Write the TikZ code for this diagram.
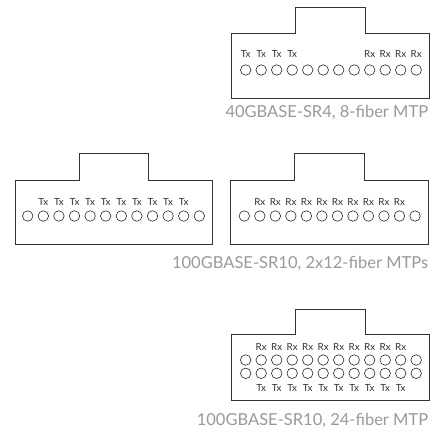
\documentclass[tikz,border=0pt]{standalone}
\usepackage{fontspec}
\setmainfont{Lato}
\begin{document}
\begin{tikzpicture}[x=1pt,y=-1pt,
  shell/.style={draw=black!80,line width=0.9pt},
  fiber/.style={circle,draw=black!85,line width=0.6pt,inner sep=0pt,minimum size=10.5pt},
  lane/.style={font=\fontsize{9.8}{9.8}\selectfont,text=black!80,inner sep=0pt},
  caption/.style={font=\fontsize{16.5}{16.5}\selectfont,text=black!40,anchor=east,inner sep=0pt}]
\useasboundingbox (0,0) rectangle (435,432);
% 40GBASE-SR4
\draw[shell] (231.7,33) -- (295.7,33) -- (295.7,7.3) -- (365.7,7.3) -- (365.7,33) -- (429.3,33) -- (429.3,98) -- (231.7,98) -- cycle;
\foreach \i in {1,...,12} \node[fiber] (a\i) at ({245.7+15.5*(\i-1)},70) {};
\foreach \i in {1,...,4} \node[lane] (ta\i) at ({245.7+15.5*(\i-1)},54) {Tx};
\foreach \i in {9,...,12} \node[lane] (ra\i) at ({245.7+15.5*(\i-1)},54) {Rx};
\node[caption] (capa) at (428.3,113) {40GBASE-SR4, 8-fiber MTP};
% 100GBASE-SR10, two MTPs
\draw[shell] (15,180) -- (79,180) -- (79,153.7) -- (148.3,153.7) -- (148.3,180) -- (212.3,180) -- (212.3,244.3) -- (15,244.3) -- cycle;
\draw[shell] (230.7,180) -- (294.3,180) -- (294.3,153.7) -- (364,153.7) -- (364,180) -- (428.3,180) -- (428.3,244.3) -- (230.7,244.3) -- cycle;
\foreach \i in {1,...,12} {
  \node[fiber] (b\i) at ({27.7+15.6*(\i-1)},216) {};
  \node[fiber] (c\i) at ({244.3+15.52*(\i-1)},216) {};
}
\foreach \i in {2,...,11} {
  \node[lane] (tb\i) at ({27.7+15.6*(\i-1)},201.7) {Tx};
  \node[lane] (rc\i) at ({244.3+15.52*(\i-1)},201.7) {Rx};
}
\node[caption] (capb) at (428.3,263.3) {100GBASE-SR10, 2x12-fiber MTPs};
% 100GBASE-SR10, one MTP
\draw[shell] (231.7,334.3) -- (295.7,334.3) -- (295.7,309) -- (365,309) -- (365,334.3) -- (429,334.3) -- (429,400) -- (231.7,400) -- cycle;
\foreach \i in {1,...,12} {
  \node[fiber] (d\i) at ({245.7+15.5*(\i-1)},360) {};
  \node[fiber] (e\i) at ({245.7+15.5*(\i-1)},373.3) {};
}
\foreach \i in {2,...,11} {
  \node[lane] (rd\i) at ({245.7+15.5*(\i-1)},346.7) {Rx};
  \node[lane] (te\i) at ({245.7+15.5*(\i-1)},388.3) {Tx};
}
\node[caption] (capc) at (428.3,420.7) {100GBASE-SR10, 24-fiber MTP};
\end{tikzpicture}
\end{document}
